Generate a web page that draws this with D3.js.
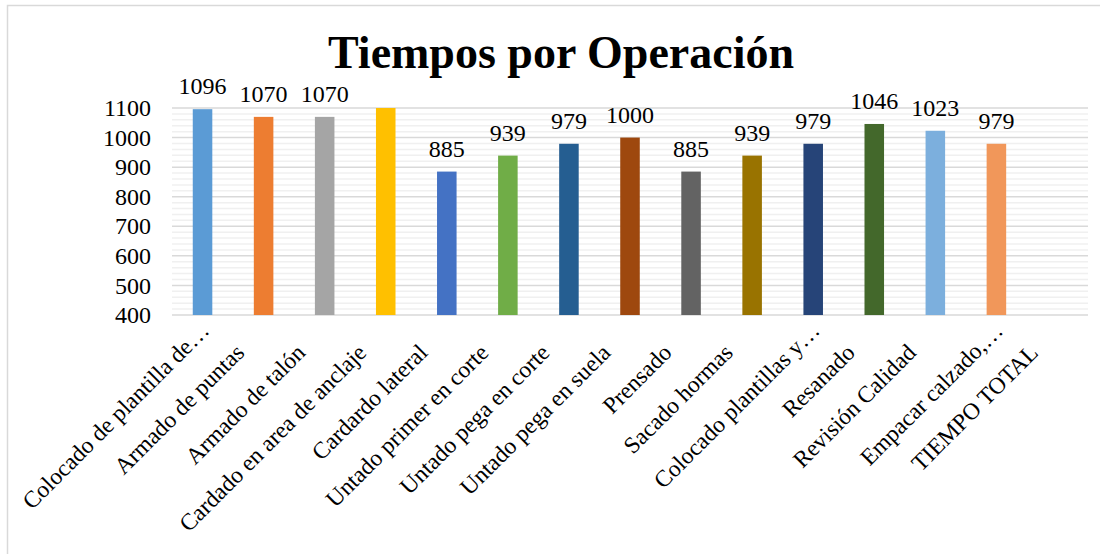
<!DOCTYPE html>
<html>
<head>
<meta charset="utf-8">
<script src="https://cdn.jsdelivr.net/npm/d3@7"></script>
<style>
  body { margin: 0; background: #fff; }
  text { font-family: "Liberation Serif", "Times New Roman", serif; fill: #000; }
</style>
</head>
<body>
<svg id="chart" width="1108" height="554"></svg>
<script>
// operations and times (seconds)
const categories = [
  "Colocado de plantilla de…", "Armado de puntas", "Armado de talón",
  "Cardado en area de anclaje", "Cardardo lateral", "Untado primer en corte",
  "Untado pega en corte", "Untado pega en suela", "Prensado", "Sacado hormas",
  "Colocado plantillas y…", "Resanado", "Revisión Calidad",
  "Empacar calzado,…", "TIEMPO TOTAL"
];
const values = [1096, 1070, 1070, 1150, 885, 939, 979, 1000, 885, 939, 979, 1046, 1023, 979, null];
const colors = [
  "#5B9BD5", "#ED7D31", "#A5A5A5", "#FFC000", "#4472C4", "#70AD47", "#255E91",
  "#9E480E", "#636363", "#997300", "#264478", "#43682B", "#7CAFDD", "#F1975A", "#B7B7B7"
];
const yTicks = [400, 500, 600, 700, 800, 900, 1000, 1100];

const serif = '"Liberation Serif", "Times New Roman", serif';
const svg = d3.select("#chart");

// outer chart frame
svg.append("path")
  .attr("d", "M7.5,554 V5.5 H1100")
  .attr("fill", "none")
  .attr("stroke", "#d9d9d9")
  .attr("stroke-width", 1.5);

const x = d3.scaleBand()
  .domain(categories)
  .range([172, 1088])
  .paddingInner(0.68)
  .paddingOuter(0.34);

const y = d3.scaleLinear()
  .domain([400, 1100])
  .range([315, 108]);

// minor gridlines every 20
const minor = d3.range(420, 1100, 20).filter(v => v % 100 !== 0);
svg.append("g").selectAll("line").data(minor).join("line")
  .attr("x1", 172).attr("x2", 1088)
  .attr("y1", d => y(d)).attr("y2", d => y(d))
  .attr("stroke", "#f0f0f0")
  .attr("stroke-width", 1.5);

// major gridlines
svg.append("g").selectAll("line").data(yTicks).join("line")
  .attr("x1", 172).attr("x2", 1088)
  .attr("y1", d => y(d)).attr("y2", d => y(d))
  .attr("stroke", "#d9d9d9")
  .attr("stroke-width", 1.5);

// y axis labels
const yAxis = svg.append("g")
  .attr("transform", "translate(151,0)")
  .call(d3.axisLeft(y).tickValues(yTicks).tickFormat(d3.format("d")).tickSize(0).tickPadding(0));
yAxis.select(".domain").remove();
yAxis.selectAll("text")
  .style("font-family", serif)
  .style("font-size", "24px")
  .style("fill", "#000");

// bars, clipped to the plot area
svg.append("clipPath").attr("id", "plot")
  .append("rect").attr("x", 172).attr("y", 108).attr("width", 916).attr("height", 207);

const rows = categories.map((c, i) => ({ name: c, value: values[i], color: colors[i] }));

svg.append("g").attr("clip-path", "url(#plot)")
  .selectAll("rect").data(rows.filter(d => d.value != null)).join("rect")
  .attr("x", d => x(d.name))
  .attr("width", x.bandwidth())
  .attr("y", d => y(Math.min(d.value, 1110)))
  .attr("height", d => y(400) - y(Math.min(d.value, 1110)))
  .attr("fill", d => d.color);

// value labels (hidden when the bar runs past the axis max)
svg.append("g").selectAll("text")
  .data(rows.filter(d => d.value != null && d.value <= 1100)).join("text")
  .attr("x", d => x(d.name) + x.bandwidth() / 2)
  .attr("y", d => y(d.value) - 15)
  .attr("text-anchor", "middle")
  .style("font-family", serif)
  .style("font-size", "24px")
  .text(d => d.value);

// rotated category labels
svg.append("g").selectAll("text").data(categories).join("text")
  .attr("transform", d => {
    const cx = x(d) + x.bandwidth() / 2;
    const cut = d.endsWith("…");
    const px = cut ? cx + 8 : cx - 18;
    const py = cut ? 332 : 354;
    return `translate(${px},${py}) rotate(-45)`;
  })
  .attr("text-anchor", "end")
  .style("font-family", serif)
  .style("font-size", "23.5px")
  .text(d => d);

// title
svg.append("text")
  .attr("x", 561)
  .attr("y", 68)
  .attr("text-anchor", "middle")
  .style("font-family", serif)
  .style("font-size", "46px")
  .style("font-weight", "bold")
  .text("Tiempos por Operación");
</script>
</body>
</html>
